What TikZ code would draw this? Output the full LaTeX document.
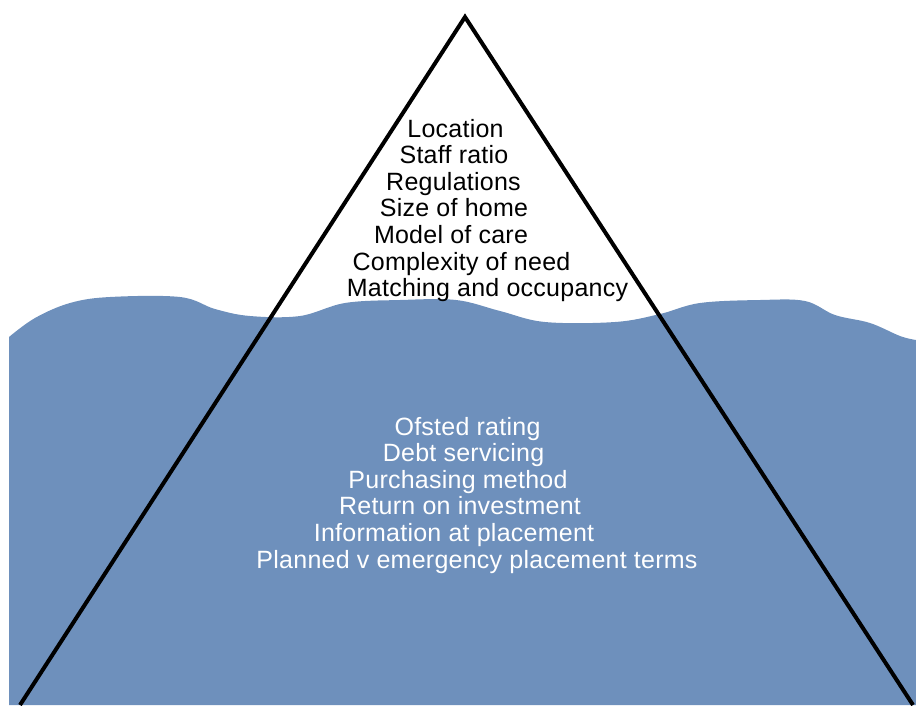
\documentclass[tikz,border=0pt]{standalone}
\usepackage{fontspec}
\usepackage{tikz}
\newfontfamily\bergfont{Liberation Sans}[LetterSpace=1]
\definecolor{seablue}{RGB}{110,144,188}

\tikzset{
    water/.style={fill=seablue},
    berg/.style={line width=4pt, line join=miter},
    above text/.style={font=\bergfont\fontsize{25}{26.6}\selectfont, text=black, anchor=base, inner sep=0pt},
    below text/.style={font=\bergfont\fontsize{25}{26.6}\selectfont, text=white, anchor=base, inner sep=0pt}
}

\begin{document}
\begin{tikzpicture}[x=1pt, y=-1pt]
    \useasboundingbox (0,0) rectangle (916,705);

    % Sea with a wavy surface
    \fill[water] (9,705) -- plot[smooth, tension=0.6] coordinates {
        (9,337) (35,318) (70,303) (110,297) (180,297)
        (215,309) (250,316) (300,316) (345,303) (400,300) (456,300)
        (500,311) (545,322) (615,322) (660,314) (700,303)
        (760,300) (805,301) (835,315) (870,323) (900,336) (916,340)}
        -- (916,705) -- cycle;

    % Iceberg outline
    \coordinate (apex) at (465,17);
    \coordinate (baseL) at (20,705);
    \coordinate (baseR) at (913,705);
    \draw[berg] (baseL) -- (apex) -- (baseR);

    % Above the waterline
    \foreach [count=\i] \xc/\txt in {455.5/Location, 454/Staff ratio,
        453.5/Regulations, 454/Size of home, 451/Model of care,
        461.5/Complexity of need, 487.5/Matching and occupancy}
        \node[above text] (tip\i) at (\xc, 110.4+26.6*\i) {\txt};

    % Below the waterline
    \foreach [count=\i] \xc/\txt in {467.5/Ofsted rating, 463.5/Debt servicing,
        458/Purchasing method, 460/Return on investment,
        454/Information at placement, 477/Planned v emergency placement terms}
        \node[below text] (low\i) at (\xc, 408.4+26.6*\i) {\txt};
\end{tikzpicture}
\end{document}
